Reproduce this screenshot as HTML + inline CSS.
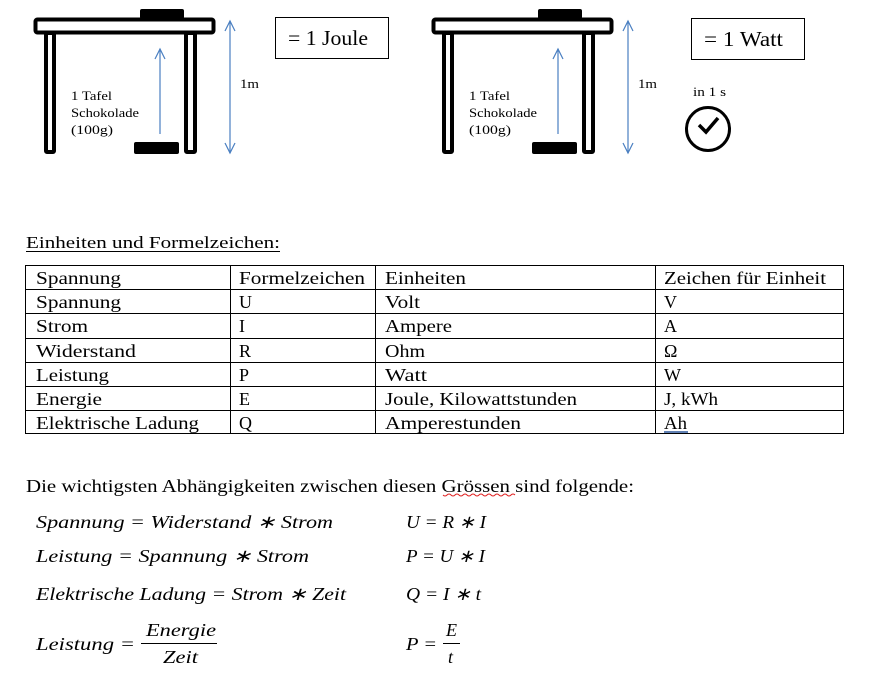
<!DOCTYPE html>
<html><head><meta charset="utf-8"><style>
body{margin:0;background:#fff;width:870px;height:682px;overflow:hidden}
svg text{font-family:"Liberation Serif",serif}
</style></head><body>
<svg width="870" height="682" viewBox="0 0 870 682" xmlns="http://www.w3.org/2000/svg">
<defs>
<g id="desk">
<rect x="140" y="9" width="44" height="10" rx="2" fill="#000"/>
<rect x="35.5" y="19.5" width="178" height="13" rx="2" fill="#fff" stroke="#000" stroke-width="4"/>
<rect x="46" y="33" width="8" height="119" rx="1" fill="#fff" stroke="#000" stroke-width="4"/>
<rect x="186" y="33" width="9" height="119" rx="1" fill="#fff" stroke="#000" stroke-width="4"/>
<rect x="134" y="142" width="45" height="12" rx="2" fill="#000"/>
<g stroke="#4a7fc1" stroke-width="1.2" fill="none">
<line x1="160" y1="49" x2="160" y2="134"/>
<polyline points="155,59 160,49 165,59"/>
<line x1="230" y1="21" x2="230" y2="153"/>
<polyline points="225,31 230,21 235,31"/>
<polyline points="225,143 230,153 235,143"/>
</g>
<text x="71" y="100" font-size="13" textLength="41" lengthAdjust="spacingAndGlyphs">1 Tafel</text>
<text x="71" y="117" font-size="13" textLength="68" lengthAdjust="spacingAndGlyphs">Schokolade</text>
<text x="71" y="134" font-size="13" textLength="42" lengthAdjust="spacingAndGlyphs">(100g)</text>
<text x="240" y="88" font-size="13" textLength="19" lengthAdjust="spacingAndGlyphs">1m</text>
</g>
</defs>
<use href="#desk"/>
<use href="#desk" x="398"/>
<rect x="275.5" y="17.5" width="113" height="41" fill="none" stroke="#000"/>
<text x="288" y="45" font-size="21" textLength="80" lengthAdjust="spacingAndGlyphs">= 1 Joule</text>
<rect x="691.5" y="18.5" width="113" height="41" fill="none" stroke="#000"/>
<text x="704" y="46" font-size="21" textLength="79" lengthAdjust="spacingAndGlyphs">= 1 Watt</text>
<text x="693" y="96" font-size="13" textLength="33" lengthAdjust="spacingAndGlyphs">in 1 s</text>
<circle cx="708" cy="129" r="21.5" fill="none" stroke="#000" stroke-width="3"/>
<polyline points="699,125 706,132 718,118" fill="none" stroke="#000" stroke-width="3.5"/>

<text x="26" y="248" font-size="17" textLength="254" lengthAdjust="spacingAndGlyphs">Einheiten und Formelzeichen:</text>
<line x1="26" y1="251.5" x2="280" y2="251.5" stroke="#000" stroke-width="1"/>
<g stroke="#000" stroke-width="1" fill="none">
<rect x="25.5" y="265.5" width="818" height="168"/>
<line x1="25" y1="289.5" x2="843" y2="289.5"/>
<line x1="25" y1="313.5" x2="843" y2="313.5"/>
<line x1="25" y1="338.5" x2="843" y2="338.5"/>
<line x1="25" y1="362.5" x2="843" y2="362.5"/>
<line x1="25" y1="386.5" x2="843" y2="386.5"/>
<line x1="25" y1="410.5" x2="843" y2="410.5"/>
<line x1="230.5" y1="265" x2="230.5" y2="433"/>
<line x1="375.5" y1="265" x2="375.5" y2="433"/>
<line x1="655.5" y1="265" x2="655.5" y2="433"/>
</g>
<g font-size="18" lengthAdjust="spacingAndGlyphs">
<text x="36" y="284" textLength="85" lengthAdjust="spacingAndGlyphs">Spannung</text><text x="239" y="284" textLength="126" lengthAdjust="spacingAndGlyphs">Formelzeichen</text><text x="385" y="284" textLength="81" lengthAdjust="spacingAndGlyphs">Einheiten</text><text x="664" y="284" textLength="162" lengthAdjust="spacingAndGlyphs">Zeichen für Einheit</text>
<text x="36" y="308" textLength="85" lengthAdjust="spacingAndGlyphs">Spannung</text><text x="239" y="308">U</text><text x="385" y="308" textLength="35" lengthAdjust="spacingAndGlyphs">Volt</text><text x="664" y="308">V</text>
<text x="36" y="332" textLength="52" lengthAdjust="spacingAndGlyphs">Strom</text><text x="239" y="332">I</text><text x="385" y="332" textLength="67" lengthAdjust="spacingAndGlyphs">Ampere</text><text x="664" y="332">A</text>
<text x="36" y="357" textLength="100" lengthAdjust="spacingAndGlyphs">Widerstand</text><text x="239" y="357">R</text><text x="385" y="357" textLength="40" lengthAdjust="spacingAndGlyphs">Ohm</text><text x="664" y="357">Ω</text>
<text x="36" y="381" textLength="73" lengthAdjust="spacingAndGlyphs">Leistung</text><text x="239" y="381">P</text><text x="385" y="381" textLength="42" lengthAdjust="spacingAndGlyphs">Watt</text><text x="664" y="381">W</text>
<text x="36" y="405" textLength="66" lengthAdjust="spacingAndGlyphs">Energie</text><text x="239" y="405">E</text><text x="385" y="405" textLength="192" lengthAdjust="spacingAndGlyphs">Joule, Kilowattstunden</text><text x="664" y="405" textLength="54" lengthAdjust="spacingAndGlyphs">J, kWh</text>
<text x="36" y="429" textLength="163" lengthAdjust="spacingAndGlyphs">Elektrische Ladung</text><text x="239" y="429">Q</text><text x="385" y="429" textLength="136" lengthAdjust="spacingAndGlyphs">Amperestunden</text><text x="664" y="429" textLength="23" lengthAdjust="spacingAndGlyphs">Ah</text>
</g>
<line x1="664" y1="432" x2="688" y2="432" stroke="#2b579a" stroke-width="1.5"/>
<text x="26" y="492" font-size="18" textLength="608" lengthAdjust="spacingAndGlyphs">Die wichtigsten Abhängigkeiten zwischen diesen Grössen sind folgende:</text>
<path d="M443 495 q2 2 4 0 t4 0 t4 0 t4 0 t4 0 t4 0 t4 0 t4 0 t4 0 t4 0 t4 0 t4 0 t4 0 t4 0 t4 0 t4 0 t4 0 t4 0" stroke="#e02020" fill="none" stroke-width="1"/>
<g font-size="18" font-style="italic">
<text x="36" y="528" textLength="297" lengthAdjust="spacingAndGlyphs">Spannung = Widerstand ∗ Strom</text>
<text x="406" y="528" textLength="80" lengthAdjust="spacingAndGlyphs">U = R ∗ I</text>
<text x="36" y="562" textLength="273" lengthAdjust="spacingAndGlyphs">Leistung =  Spannung ∗ Strom</text>
<text x="406" y="562" textLength="79" lengthAdjust="spacingAndGlyphs">P = U ∗ I</text>
<text x="36" y="600" textLength="310" lengthAdjust="spacingAndGlyphs">Elektrische Ladung = Strom ∗ Zeit</text>
<text x="406" y="600" textLength="75" lengthAdjust="spacingAndGlyphs">Q = I ∗ t</text>
<text x="36" y="650" textLength="99" lengthAdjust="spacingAndGlyphs">Leistung =</text>
<text x="146" y="636" textLength="70" lengthAdjust="spacingAndGlyphs">Energie</text>
<line x1="141" y1="643.5" x2="217" y2="643.5" stroke="#000"/>
<text x="163" y="663" textLength="35" lengthAdjust="spacingAndGlyphs">Zeit</text>
<text x="406" y="650" textLength="31" lengthAdjust="spacingAndGlyphs">P =</text>
<text x="446" y="636">E</text>
<line x1="443" y1="643.5" x2="460" y2="643.5" stroke="#000"/>
<text x="448" y="663">t</text>
</g>
</svg>
</body></html>
